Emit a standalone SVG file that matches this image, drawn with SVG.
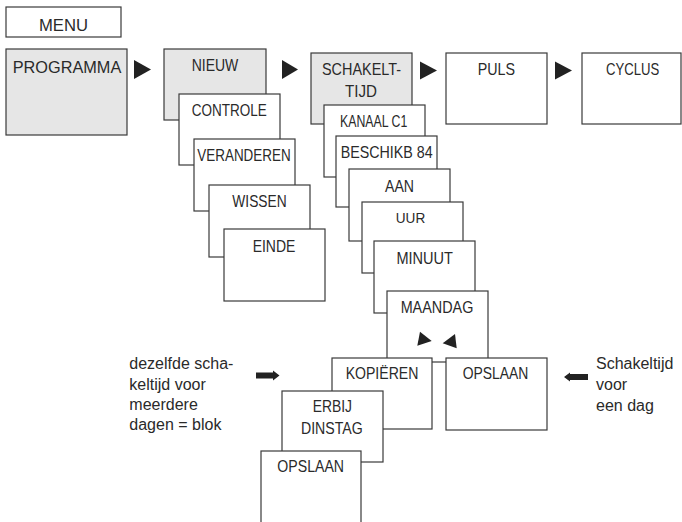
<svg xmlns="http://www.w3.org/2000/svg" width="682" height="522" viewBox="0 0 682 522">
<style>
.b{fill:#fff;stroke:#3a3a3a;stroke-width:1.2}
.g{fill:#e6e6e6;stroke:#3a3a3a;stroke-width:1.2}
.t{font-family:"Liberation Sans",Arial,sans-serif;font-size:16.5px;fill:#2a2a2a;text-anchor:middle}
.l{font-family:"Liberation Sans",Arial,sans-serif;font-size:16px;fill:#2a2a2a}
.p{font-family:"Liberation Sans",Arial,sans-serif;font-size:16.5px;fill:#2a2a2a}
.a{fill:#222}
</style>
<rect width="682" height="522" fill="#fff"/>
<g id="menu"><rect class="b" x="6" y="7" width="115" height="30"/><text class="t" x="63.5" y="31" textLength="49" lengthAdjust="spacingAndGlyphs">MENU</text></g>
<g id="programma"><rect class="g" x="6" y="49" width="121" height="86"/><text class="p" x="12.7" y="73" textLength="108.6" lengthAdjust="spacingAndGlyphs">PROGRAMMA</text></g>
<g id="nieuw"><rect class="g" x="164" y="49" width="102" height="71"/><text class="t" x="215" y="71" textLength="46.7" lengthAdjust="spacingAndGlyphs">NIEUW</text></g>
<g id="controle"><rect class="b" x="179" y="94" width="101" height="71"/><text class="t" x="229.2" y="116" textLength="75" lengthAdjust="spacingAndGlyphs">CONTROLE</text></g>
<g id="veranderen"><rect class="b" x="194" y="139" width="101" height="72"/><text class="t" x="244" y="161" textLength="93.3" lengthAdjust="spacingAndGlyphs">VERANDEREN</text></g>
<g id="wissen"><rect class="b" x="209" y="185" width="101" height="72"/><text class="t" x="259.5" y="207" textLength="54.3" lengthAdjust="spacingAndGlyphs">WISSEN</text></g>
<g id="einde"><rect class="b" x="224" y="229" width="101" height="72"/><text class="t" x="274" y="252" textLength="42.7" lengthAdjust="spacingAndGlyphs">EINDE</text></g>
<g id="schakeltijd"><rect class="g" x="311" y="53" width="101" height="71"/><text class="t" x="361.5" y="75" textLength="79" lengthAdjust="spacingAndGlyphs">SCHAKELT-</text><text class="t" x="361" y="97" textLength="32" lengthAdjust="spacingAndGlyphs">TIJD</text></g>
<g id="puls"><rect class="b" x="446" y="53" width="101" height="71"/><text class="t" x="496.3" y="75" textLength="37.3" lengthAdjust="spacingAndGlyphs">PULS</text></g>
<g id="cyclus"><rect class="b" x="582" y="53" width="99" height="71"/><text class="t" x="632.7" y="75" textLength="53.3" lengthAdjust="spacingAndGlyphs">CYCLUS</text></g>
<g id="kanaal"><rect class="b" x="324" y="105" width="101" height="72"/><text class="t" x="373.7" y="127" textLength="67.3" lengthAdjust="spacingAndGlyphs">KANAAL C1</text></g>
<g id="beschikb"><rect class="b" x="336" y="136" width="101" height="71"/><text class="t" x="386.7" y="158" textLength="92" lengthAdjust="spacingAndGlyphs">BESCHIKB 84</text></g>
<g id="aan"><rect class="b" x="349" y="169" width="101" height="72"/><text class="t" x="399.5" y="192" textLength="29" lengthAdjust="spacingAndGlyphs">AAN</text></g>
<g id="uur"><rect class="b" x="362" y="202" width="101" height="71"/><text class="t" x="410.5" y="223" textLength="29.5" lengthAdjust="spacingAndGlyphs" style="font-size:14.5px">UUR</text></g>
<g id="minuut"><rect class="b" x="374" y="241" width="101" height="72"/><text class="t" x="424.7" y="263.5" textLength="56.5" lengthAdjust="spacingAndGlyphs">MINUUT</text></g>
<g id="maandag"><rect class="b" x="387" y="291" width="101" height="71"/><text class="t" x="437" y="313" textLength="72.7" lengthAdjust="spacingAndGlyphs">MAANDAG</text>
<polygon class="a" points="420,331.7 417.3,345.7 431.7,341"/><polygon class="a" points="455,334 456.7,348.3 442.7,343.3"/></g>
<g id="kopieren"><rect class="b" x="332" y="358" width="100" height="71"/><text class="t" x="382" y="379" textLength="72.7" lengthAdjust="spacingAndGlyphs">KOPIËREN</text></g>
<g id="opslaan1"><rect class="b" x="446" y="358" width="101" height="72"/><text class="t" x="495.5" y="379" textLength="65.7" lengthAdjust="spacingAndGlyphs">OPSLAAN</text></g>
<g id="erbij"><rect class="b" x="282" y="391" width="101" height="71"/><text class="t" x="332.3" y="412" textLength="39.3" lengthAdjust="spacingAndGlyphs">ERBIJ</text><text class="t" x="331.8" y="434" textLength="61.7" lengthAdjust="spacingAndGlyphs">DINSTAG</text></g>
<g id="opslaan2"><rect class="b" x="261" y="451" width="100" height="76"/><text class="t" x="310.7" y="472" textLength="66.7" lengthAdjust="spacingAndGlyphs">OPSLAAN</text></g>
<g id="note-left"><text class="l" x="129.3" y="369">dezelfde scha-</text><text class="l" x="129.3" y="389.5">keltijd voor</text><text class="l" x="129.3" y="410">meerdere</text><text class="l" x="129.3" y="430">dagen = blok</text></g>
<g id="note-right"><text class="l" x="596" y="369">Schakeltijd</text><text class="l" x="596" y="390">voor</text><text class="l" x="596" y="410.5">een dag</text></g>
<g id="connectors">
<polygon class="a" points="134,60 134,79 151,69.5"/>
<polygon class="a" points="282,60 282,79 298,69.5"/>
<polygon class="a" points="420,61.5 420,79.5 437,70.5"/>
<polygon class="a" points="555,61.5 555,79.5 572,70.5"/>
<polygon class="a" points="256,372.5 273,372.5 273,370.5 279.5,375.5 273,380.5 273,378.5 256,378.5"/>
<polygon class="a" points="588,374 570,374 570,372.5 564,377 570,381.5 570,380 588,380"/>
</g>
</svg>
